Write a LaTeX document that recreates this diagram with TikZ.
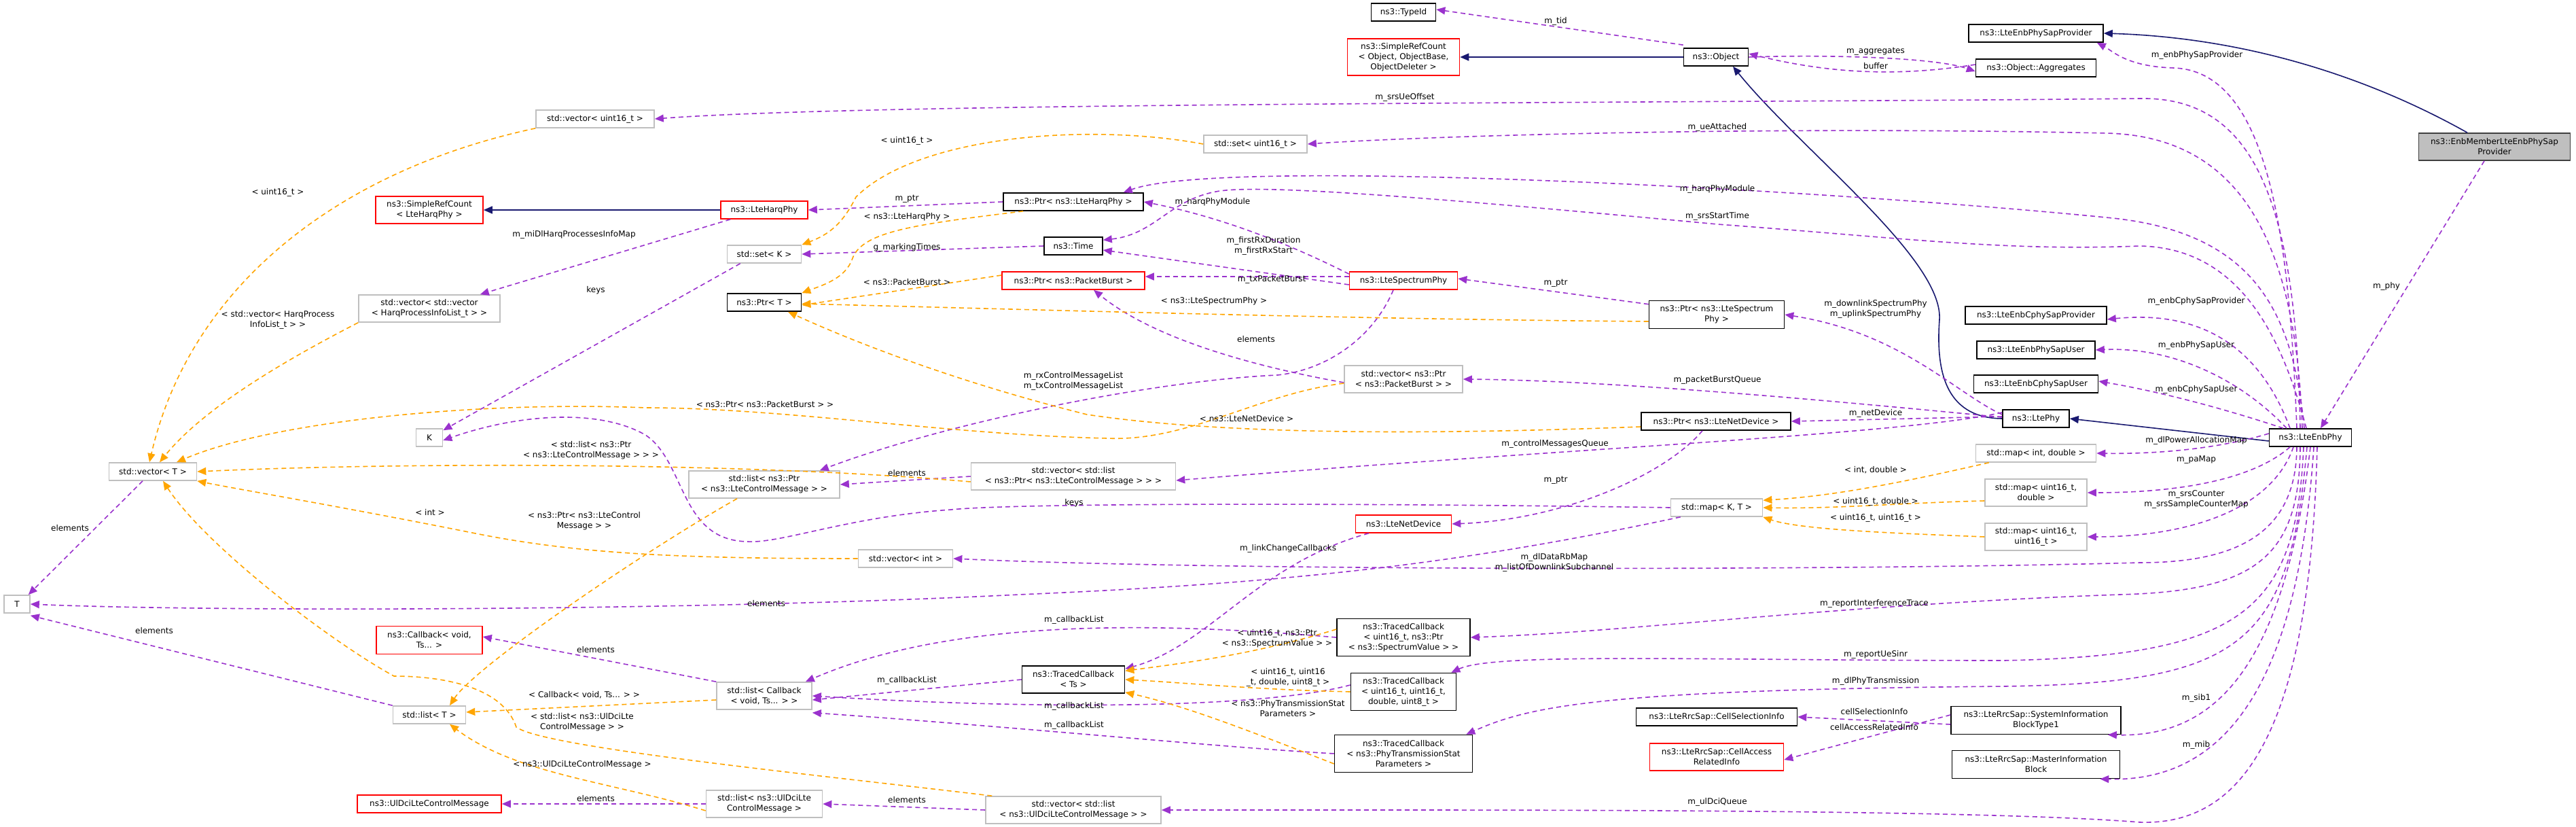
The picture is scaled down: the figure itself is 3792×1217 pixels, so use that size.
\documentclass[tikz,border=0pt]{standalone}
\usepackage{fontspec}
\setmainfont{DejaVu Sans}
\usetikzlibrary{arrows.meta}
\definecolor{purp}{HTML}{9A32CD}
\definecolor{orng}{HTML}{FFA500}
\definecolor{navy}{HTML}{191970}
\definecolor{gbord}{HTML}{BFBFBF}
\begin{document}
\begin{tikzpicture}[x=1pt,y=-1pt,
  box/.style={rectangle,draw,line width=1.6pt,align=center,inner sep=1pt,font=\fontsize{12}{15}\selectfont},
  gbox/.style={box,draw=gbord},
  bbox/.style={box,draw=black},
  rbox/.style={box,draw=red},
  lbl/.style={inner sep=0pt,align=center,font=\fontsize{12}{15}\selectfont},
  tip/.style={-{Triangle[length=13pt,width=11pt]}},
  pe/.style={draw=purp,line width=1.6pt,dash pattern=on 7pt off 5pt,tip,fill=none},
  oe/.style={draw=orng,line width=1.6pt,dash pattern=on 7pt off 5pt,tip,fill=none},
  ie/.style={draw=navy,line width=1.6pt,tip}]
\useasboundingbox[fill=white] (0,0) rectangle (3792,1217);
% nodes
\node[rbox,minimum width=158,minimum height=40] (srcl) at (632,309) {ns3::SimpleRefCount\\< LteHarqPhy >};
\node[gbox,minimum width=174,minimum height=26] (vu16) at (876,175) {std::vector< uint16\_t >};
\node[gbox,minimum width=208,minimum height=40] (vvh) at (632,454) {std::vector< std::vector\\< HarqProcessInfoList\_t > >};
\node[gbox,minimum width=39,minimum height=26] (k) at (632,644) {K};
\node[gbox,minimum width=129,minimum height=26] (vt) at (225,694) {std::vector< T >};
\node[gbox,minimum width=38,minimum height=26] (t) at (25,889) {T};
\node[rbox,minimum width=156,minimum height=41] (cb) at (632,942) {ns3::Callback< void,\\Ts... >};
\node[gbox,minimum width=107,minimum height=26] (lt) at (632,1052) {std::list< T >};
\node[rbox,minimum width=212,minimum height=26] (udm) at (632,1183) {ns3::UlDciLteControlMessage};
\node[rbox,minimum width=128,minimum height=26] (lhp) at (1125,309) {ns3::LteHarqPhy};
\node[gbox,minimum width=109,minimum height=26] (setk) at (1125,374) {std::set< K >};
\node[bbox,minimum width=109,minimum height=26] (pt) at (1125,445) {ns3::Ptr< T >};
\node[gbox,minimum width=222,minimum height=40] (llc) at (1125,713) {std::list< ns3::Ptr\\< ns3::LteControlMessage > >};
\node[gbox,minimum width=140,minimum height=40] (lcb) at (1125,1024) {std::list< Callback\\< void, Ts... > >};
\node[gbox,minimum width=171,minimum height=40] (lud) at (1125,1183) {std::list< ns3::UlDciLte\\ControlMessage >};
\node[gbox,minimum width=139,minimum height=26] (vint) at (1333,822) {std::vector< int >};
\node[bbox,minimum width=206,minimum height=26] (plh) at (1580,297) {ns3::Ptr< ns3::LteHarqPhy >};
\node[bbox,minimum width=86,minimum height=26] (time) at (1580,362) {ns3::Time};
\node[rbox,minimum width=210,minimum height=26] (ppb) at (1580,413) {ns3::Ptr< ns3::PacketBurst >};
\node[gbox,minimum width=301,minimum height=40] (vlc) at (1580,701) {std::vector< std::list\\< ns3::Ptr< ns3::LteControlMessage > > >};
\node[bbox,minimum width=151,minimum height=40] (tc) at (1580,1000) {ns3::TracedCallback\\< Ts >};
\node[gbox,minimum width=258,minimum height=40] (vlu) at (1580,1192) {std::vector< std::list\\< ns3::UlDciLteControlMessage > >};
\node[gbox,minimum width=152,minimum height=26] (su16) at (1848,212) {std::set< uint16\_t >};
\node[bbox,minimum width=95,minimum height=26] (typeid) at (2066,18) {ns3::TypeId};
\node[rbox,minimum width=165,minimum height=54] (srco) at (2066,84) {ns3::SimpleRefCount\\< Object, ObjectBase,\\ObjectDeleter >};
\node[rbox,minimum width=159,minimum height=26] (lsph) at (2066,413) {ns3::LteSpectrumPhy};
\node[gbox,minimum width=174,minimum height=40] (vpb) at (2066,558) {std::vector< ns3::Ptr\\< ns3::PacketBurst > >};
\node[rbox,minimum width=141,minimum height=26] (lnd) at (2066,771) {ns3::LteNetDevice};
\node[bbox,minimum width=196,minimum height=55] (tc1) at (2066,938) {ns3::TracedCallback\\< uint16\_t, ns3::Ptr\\< ns3::SpectrumValue > >};
\node[bbox,minimum width=155,minimum height=55] (tc2) at (2066,1018) {ns3::TracedCallback\\< uint16\_t, uint16\_t,\\double, uint8\_t >};
\node[bbox,minimum width=203,minimum height=55] (tc3) at (2066,1109) {ns3::TracedCallback\\< ns3::PhyTransmissionStat\\Parameters >};
\node[bbox,minimum width=95,minimum height=26] (obj) at (2526,84) {ns3::Object};
\node[bbox,minimum width=199,minimum height=41] (plsp) at (2527,463) {ns3::Ptr< ns3::LteSpectrum\\Phy >};
\node[bbox,minimum width=220,minimum height=26] (pnd) at (2526,620) {ns3::Ptr< ns3::LteNetDevice >};
\node[gbox,minimum width=135,minimum height=26] (mkt) at (2527,747) {std::map< K, T >};
\node[bbox,minimum width=237,minimum height=26] (csi) at (2527,1055) {ns3::LteRrcSap::CellSelectionInfo};
\node[rbox,minimum width=197,minimum height=40] (cari) at (2527,1114) {ns3::LteRrcSap::CellAccess\\RelatedInfo};
\node[bbox,minimum width=198,minimum height=26] (lsp) at (2997,49) {ns3::LteEnbPhySapProvider};
\node[bbox,minimum width=177,minimum height=26] (agg) at (2997,100) {ns3::Object::Aggregates};
\node[bbox,minimum width=208,minimum height=26] (lecp) at (2997,464) {ns3::LteEnbCphySapProvider};
\node[bbox,minimum width=174,minimum height=26] (lepu) at (2997,515) {ns3::LteEnbPhySapUser};
\node[bbox,minimum width=183,minimum height=26] (lecu) at (2997,565) {ns3::LteEnbCphySapUser};
\node[bbox,minimum width=98,minimum height=26] (ltephy) at (2997,616) {ns3::LtePhy};
\node[gbox,minimum width=177,minimum height=26] (mid) at (2997,667) {std::map< int, double >};
\node[gbox,minimum width=150,minimum height=40] (mud) at (2997,725) {std::map< uint16\_t,\\double >};
\node[gbox,minimum width=150,minimum height=40] (muu) at (2997,790) {std::map< uint16\_t,\\uint16\_t >};
\node[bbox,minimum width=250,minimum height=41] (sib) at (2997,1060) {ns3::LteRrcSap::SystemInformation\\BlockType1};
\node[bbox,minimum width=247,minimum height=41] (mib) at (2997,1125) {ns3::LteRrcSap::MasterInformation\\Block};
\node[bbox,minimum width=121,minimum height=26] (enb) at (3401,644) {ns3::LteEnbPhy};
\node[box,draw=black!75,fill=gbord,minimum width=223,minimum height=40] (enbm) at (3672,216) {ns3::EnbMemberLteEnbPhySap\\Provider};
% inheritance
\draw[ie] (lhp.west) -- (srcl.east);
\draw[ie] (obj.west) -- (srco.east);
\draw[ie] (ltephy.west) .. controls (2860,615) and (2850,540) .. (2855,470) .. controls (2860,380) and (2650,220) .. ([xshift=25pt]obj.south);
\draw[ie] ([yshift=-5pt]enb.west) -- (ltephy.east);
\draw[ie] ([xshift=-40pt]enbm.north) .. controls (3480,110) and (3300,55) .. (lsp.east);
% purple from Object / EnbMember
\draw[pe] ([yshift=4pt]obj.north west) -- ([yshift=4pt]typeid.east);
\draw[pe] (obj.east) .. controls (2700,80) and (2850,85) .. ([yshift=-5pt]agg.west);
\draw[pe] ([yshift=5pt]agg.west) .. controls (2800,112) and (2700,110) .. ([yshift=5pt]obj.east);
\draw[pe] ([xshift=-15pt]enbm.south) -- ([xshift=15pt]enb.north);
% LteEnbPhy upward edges
\draw[pe] ([xshift=-20pt]enb.north) .. controls (3370,350) and (3340,105) .. (3200,100) .. controls (3130,98) and (3110,75) .. ([xshift=-10pt]lsp.south east);
\draw[pe] ([xshift=-15pt]enb.north) .. controls (3380,300) and (3320,142) .. (3150,145) .. controls (2500,152) and (1300,150) .. (vu16.east);
\draw[pe] ([xshift=-12pt]enb.north) .. controls (3380,360) and (3300,200) .. (3100,196) .. controls (2600,185) and (2100,200) .. (su16.east);
\draw[pe] ([xshift=-9pt]enb.north) .. controls (3375,460) and (3320,340) .. (3100,320) .. controls (2700,280) and (1800,230) .. ([xshift=-30pt]plh.north east);
\draw[pe] ([xshift=-6pt]enb.north) .. controls (3360,500) and (3300,365) .. (3150,362) .. controls (2950,370) and (2800,350) .. (2528,330) .. controls (2100,290) and (1850,270) .. (1790,282) .. controls (1720,295) and (1700,345) .. ([yshift=-5pt]time.north east);
\draw[pe] ([xshift=-30pt]enb.north) .. controls (3330,520) and (3250,455) .. ([yshift=-6pt]lecp.east);
\draw[pe] ([xshift=-35pt]enb.north) .. controls (3300,560) and (3200,510) .. (lepu.east);
\draw[pe] ([xshift=-40pt]enb.north) .. controls (3300,610) and (3200,580) .. ([yshift=4pt]lecu.east);
\draw[pe] ([yshift=6pt]enb.west) .. controls (3250,665) and (3150,668) .. (mid.east);
% LteEnbPhy downward edges
\draw[pe] ([xshift=-30pt]enb.south) .. controls (3300,720) and (3150,725) .. (mud.east);
\draw[pe] ([xshift=-25pt]enb.south) .. controls (3340,760) and (3200,790) .. (muu.east);
\draw[pe] ([xshift=-20pt]enb.south) .. controls (3380,780) and (3300,828) .. (3150,828) .. controls (2700,840) and (1800,840) .. (vint.east);
\draw[pe] ([xshift=-15pt]enb.south) .. controls (3385,820) and (3320,870) .. (3120,875) .. controls (2700,890) and (2400,930) .. (tc1.east);
\draw[pe] ([xshift=-10pt]enb.south) .. controls (3380,900) and (3300,965) .. (2950,972) .. controls (2500,972) and (2200,960) .. ([xshift=-8pt]tc2.north east);
\draw[pe] ([xshift=-5pt]enb.south) .. controls (3370,950) and (3300,1005) .. (2950,1010) .. controls (2350,1015) and (2250,1040) .. ([xshift=-10pt]tc3.north east);
\draw[pe] (enb.south) .. controls (3360,1000) and (3250,1085) .. ([xshift=-20pt]sib.south east);
\draw[pe] ([xshift=5pt]enb.south) .. controls (3380,1050) and (3250,1150) .. ([xshift=-30pt]mib.south east);
\draw[pe] ([xshift=10pt]enb.south) .. controls (3400,1080) and (3300,1215) .. (3150,1210) .. controls (2900,1190) and (2200,1192) .. (vlu.east);
% LtePhy edges
\draw[pe] ([yshift=6pt]ltephy.west) .. controls (2880,580) and (2800,490) .. (plsp.east);
\draw[pe] ([yshift=2pt]ltephy.west) .. controls (2800,600) and (2400,560) .. (vpb.east);
\draw[pe] ([yshift=3pt]ltephy.west) -- (pnd.east);
\draw[pe] ([yshift=9pt]ltephy.west) .. controls (2800,640) and (2300,660) .. ([yshift=-6pt]vlc.east);
% other purple
\draw[pe] ([xshift=15pt]lhp.south west) -- ([xshift=-30pt]vvh.north east);
\draw[pe] (plh.west) -- (lhp.east);
\draw[pe] (time.west) -- (setk.east);
\draw[pe] ([xshift=20pt]setk.south west) -- ([yshift=-3pt]k.north east);
\draw[pe] ([xshift=-15pt]vt.south) -- ([xshift=-3pt]t.north east);
\draw[pe] (lt.north west) -- ([yshift=-3pt]t.south east);
\draw[pe] (mkt.west) .. controls (2000,740) and (1500,740) .. (1400,750) .. controls (1250,760) and (1150,800) .. (1100,797) .. controls (1000,795) and (1010,680) .. (950,640) .. controls (880,600) and (760,610) .. ([yshift=-4pt]k.east);
\draw[pe] ([xshift=15pt]mkt.south west) .. controls (2150,830) and (1900,858) .. (1500,875) .. controls (1000,900) and (300,900) .. (t.east);
\draw[pe] (vlc.west) -- (llc.east);
\draw[pe] ([xshift=-15pt]lsph.south) .. controls (2020,500) and (1950,545) .. (1880,552) .. controls (1700,560) and (1400,620) .. ([xshift=-30pt]llc.north east);
\draw[pe] ([yshift=-4pt]lsph.north west) .. controls (1900,360) and (1800,320) .. (plh.east);
\draw[pe] ([yshift=-6pt]lsph.west) -- ([yshift=-6pt]time.east);
\draw[pe] ([yshift=6pt]lsph.west) -- ([yshift=6pt]ppb.east);
\draw[pe] ([yshift=-5pt]vpb.west) .. controls (1850,540) and (1700,500) .. ([xshift=30pt]ppb.south);
\draw[pe] ([yshift=-6pt]plsp.north west) -- ([yshift=3pt]lsph.east);
\draw[pe] ([xshift=-20pt]pnd.south) .. controls (2450,700) and (2300,765) .. (lnd.east);
\draw[pe] ([xshift=20pt]lnd.south west) .. controls (1850,830) and (1780,950) .. ([yshift=-5pt]tc.north east);
\draw[pe] (tc.west) -- ([yshift=-6pt]lcb.east);
\draw[pe] (tc1.west) .. controls (1700,915) and (1400,910) .. ([xshift=-10pt]lcb.north east);
\draw[pe] ([yshift=10pt]tc2.west) .. controls (1850,1045) and (1500,1043) .. (lcb.east);
\draw[pe] (tc3.west) .. controls (1800,1100) and (1500,1070) .. ([yshift=-4pt]lcb.south east);
\draw[pe] (lcb.north west) -- ([yshift=5pt]cb.east);
\draw[pe] (lud.west) -- (udm.east);
\draw[pe] (vlu.west) -- (lud.east);
\draw[pe] ([yshift=-6pt]sib.west) -- (csi.east);
\draw[pe] ([yshift=8pt]sib.west) -- ([yshift=-4pt]cari.east);
% orange template edges
\draw[oe] (vu16.south west) .. controls (500,250) and (280,420) .. ([xshift=-5pt]vt.north);
\draw[oe] (vvh.south west) .. controls (420,530) and (300,600) .. ([xshift=10pt]vt.north);
\draw[oe] ([yshift=-6pt]vpb.west) .. controls (1850,580) and (1750,650) .. (1630,645) .. controls (1400,640) and (1150,600) .. (950,600) .. controls (700,590) and (400,620) .. ([xshift=35pt]vt.north);
\draw[oe] ([yshift=-8pt]vlc.west) .. controls (1100,680) and (600,680) .. (vt.east);
\draw[oe] (vint.west) .. controls (1000,822) and (850,815) .. (700,785) .. controls (500,745) and (350,720) .. (vt.south east);
\draw[oe] ([xshift=10pt]vlu.north west) .. controls (1200,1140) and (800,1100) .. (760,1070) .. controls (740,1010) and (650,995) .. (580,995) .. controls (480,940) and (300,800) .. ([xshift=15pt]vt.south);
\draw[oe] ([xshift=-40pt]llc.south) .. controls (950,810) and (700,980) .. ([xshift=30pt]lt.north);
\draw[oe] ([yshift=-6pt]lcb.west) -- ([yshift=4pt]lt.east);
\draw[oe] ([yshift=-10pt]lud.west) .. controls (900,1150) and (760,1140) .. ([xshift=30pt]lt.south);
\draw[oe] (su16.west) .. controls (1600,180) and (1350,200) .. (1260,290) .. controls (1240,330) and (1220,345) .. (setk.north east);
\draw[oe] ([xshift=30pt]plh.south west) .. controls (1350,330) and (1270,340) .. (1255,380) .. controls (1245,410) and (1210,420) .. (pt.north east);
\draw[oe] ([yshift=8pt]ppb.west) -- ([yshift=-4pt]pt.east);
\draw[oe] ([yshift=-10pt]plsp.west) .. controls (2000,470) and (1500,455) .. ([yshift=-2pt]pt.east);
\draw[oe] ([yshift=-8pt]pnd.west) .. controls (2100,640) and (1800,640) .. (1600,610) .. controls (1400,560) and (1250,500) .. ([xshift=35pt]pt.south);
\draw[oe] ([xshift=20pt]mid.south west) .. controls (2800,710) and (2700,730) .. ([yshift=-3pt]mkt.north east);
\draw[oe] ([yshift=-12pt]mud.west) .. controls (2800,740) and (2700,749) .. (mkt.east);
\draw[oe] (muu.west) .. controls (2800,785) and (2650,780) .. (mkt.south east);
\draw[oe] ([yshift=12pt]tc1.west) .. controls (1850,962) and (1750,975) .. ([yshift=-8pt]tc.north east);
\draw[oe] (tc2.west) .. controls (1850,1015) and (1750,1005) .. (tc.east);
\draw[oe] ([yshift=-15pt]tc3.west) .. controls (1850,1080) and (1750,1040) .. ([yshift=2pt]tc.south east);
% labels
\node[lbl] (a1) at (409,283) {< uint16\_t >};
\node[lbl] (a2) at (845,345) {m\_miDlHarqProcessesInfoMap};
\node[lbl] (a3) at (409,471) {< std::vector< HarqProcess\\InfoList\_t > >};
\node[lbl] (a4) at (877,427) {keys};
\node[lbl] (a5) at (870,663) {< std::list< ns3::Ptr\\< ns3::LteControlMessage > > >};
\node[lbl] (a6) at (633,754) {< int >};
\node[lbl] (a7) at (860,767) {< ns3::Ptr< ns3::LteControl\\Message > >};
\node[lbl] (a8) at (103,777) {elements};
\node[lbl] (a9) at (227,928) {elements};
\node[lbl] (a10) at (877,956) {elements};
\node[lbl] (a11) at (860,1023) {< Callback< void, Ts... > >};
\node[lbl] (a12) at (857,1063) {< std::list< ns3::UlDciLte\\ControlMessage > >};
\node[lbl] (a13) at (857,1125) {< ns3::UlDciLteControlMessage >};
\node[lbl] (a14) at (877,1175) {elements};
\node[lbl] (a15) at (1335,207) {< uint16\_t >};
\node[lbl] (a16) at (1335,293) {m\_ptr};
\node[lbl] (a17) at (1335,319) {< ns3::LteHarqPhy >};
\node[lbl] (a18) at (1335,364) {g\_markingTimes};
\node[lbl] (a19) at (1335,415) {< ns3::PacketBurst >};
\node[lbl] (a20) at (1785,297) {m\_harqPhyModule};
\node[lbl] (a21) at (1860,362) {m\_firstRxDuration\\m\_firstRxStart};
\node[lbl] (a22) at (1872,411) {m\_txPacketBurst};
\node[lbl] (a23) at (1787,443) {< ns3::LteSpectrumPhy >};
\node[lbl] (a24) at (1849,499) {elements};
\node[lbl] (a25) at (1580,561) {m\_rxControlMessageList\\m\_txControlMessageList};
\node[lbl] (a26) at (1126,595) {< ns3::Ptr< ns3::PacketBurst > >};
\node[lbl] (a27) at (1835,616) {< ns3::LteNetDevice >};
\node[lbl] (a28) at (1335,696) {elements};
\node[lbl] (a29) at (1581,740) {keys};
\node[lbl] (a30) at (1896,807) {m\_linkChangeCallbacks};
\node[lbl] (a31) at (1128,888) {elements};
\node[lbl] (a32) at (1581,912) {m\_callbackList};
\node[lbl] (a33) at (1880,940) {< uint16\_t, ns3::Ptr\\< ns3::SpectrumValue > >};
\node[lbl] (a34) at (1335,1001) {m\_callbackList};
\node[lbl] (a35) at (1896,997) {< uint16\_t, uint16\\\_t, double, uint8\_t >};
\node[lbl] (a36) at (1581,1039) {m\_callbackList};
\node[lbl] (a37) at (1896,1043) {< ns3::PhyTransmissionStat\\Parameters >};
\node[lbl] (a38) at (1581,1067) {m\_callbackList};
\node[lbl] (a39) at (1335,1177) {elements};
\node[lbl] (a40) at (2290,31) {m\_tid};
\node[lbl] (a41) at (2761,76) {m\_aggregates};
\node[lbl] (a42) at (2761,97) {buffer};
\node[lbl] (a43) at (2068,143) {m\_srsUeOffset};
\node[lbl] (a44) at (2528,187) {m\_ueAttached};
\node[lbl] (a45) at (2528,278) {m\_harqPhyModule};
\node[lbl] (a46) at (2528,318) {m\_srsStartTime};
\node[lbl] (a47) at (2290,417) {m\_ptr};
\node[lbl] (a48) at (2761,455) {m\_downlinkSpectrumPhy\\m\_uplinkSpectrumPhy};
\node[lbl] (a49) at (2528,559) {m\_packetBurstQueue};
\node[lbl] (a50) at (2761,608) {m\_netDevice};
\node[lbl] (a51) at (2289,653) {m\_controlMessagesQueue};
\node[lbl] (a52) at (2761,692) {< int, double >};
\node[lbl] (a53) at (2290,707) {m\_ptr};
\node[lbl] (a54) at (2761,738) {< uint16\_t, double >};
\node[lbl] (a55) at (2761,762) {< uint16\_t, uint16\_t >};
\node[lbl] (a56) at (2288,828) {m\_dlDataRbMap\\m\_listOfDownlinkSubchannel};
\node[lbl] (a57) at (2759,888) {m\_reportInterferenceTrace};
\node[lbl] (a58) at (2761,963) {m\_reportUeSinr};
\node[lbl] (a59) at (2761,1002) {m\_dlPhyTransmission};
\node[lbl] (a60) at (2759,1047) {cellSelectionInfo};
\node[lbl] (a61) at (2759,1070) {cellAccessRelatedInfo};
\node[lbl] (a62) at (2528,1180) {m\_ulDciQueue};
\node[lbl] (a63) at (3234,81) {m\_enbPhySapProvider};
\node[lbl] (a64) at (3513,421) {m\_phy};
\node[lbl] (a65) at (3233,443) {m\_enbCphySapProvider};
\node[lbl] (a66) at (3233,508) {m\_enbPhySapUser};
\node[lbl] (a67) at (3233,573) {m\_enbCphySapUser};
\node[lbl] (a68) at (3233,648) {m\_dlPowerAllocationMap};
\node[lbl] (a69) at (3233,677) {m\_paMap};
\node[lbl] (a70) at (3233,735) {m\_srsCounter\\m\_srsSampleCounterMap};
\node[lbl] (a71) at (3233,1027) {m\_sib1};
\node[lbl] (a72) at (3233,1096) {m\_mib};
\end{tikzpicture}
\end{document}
